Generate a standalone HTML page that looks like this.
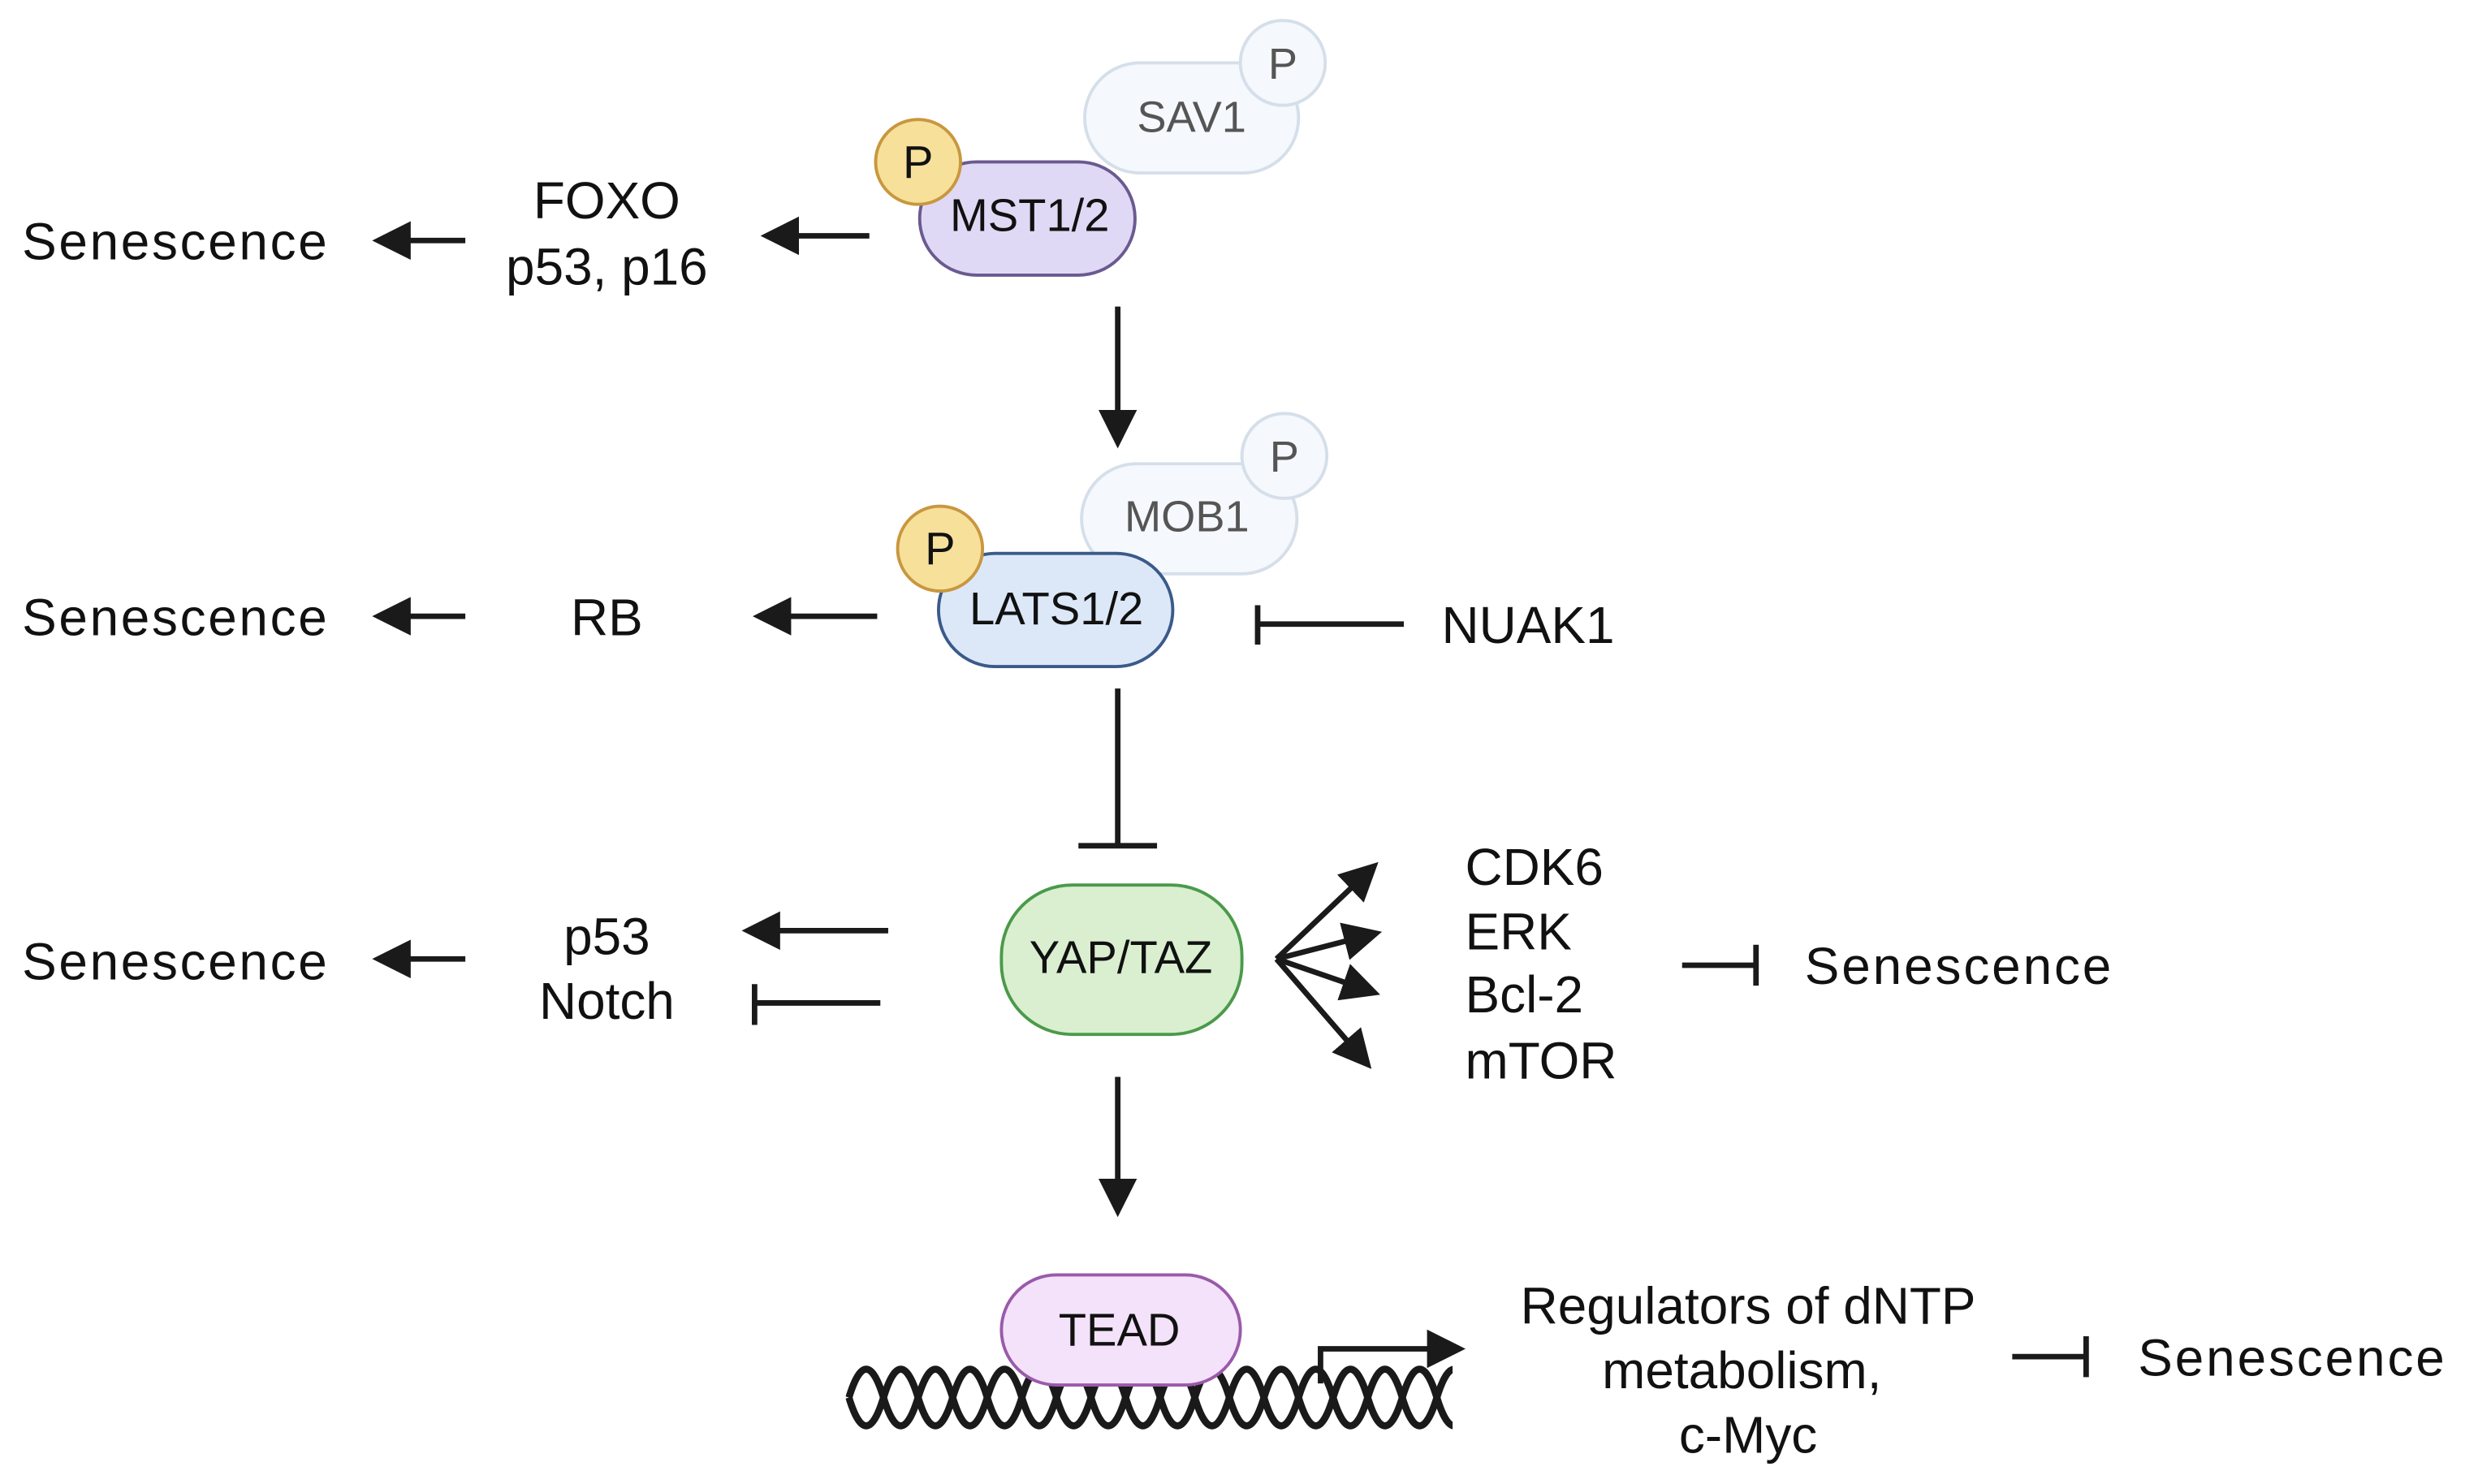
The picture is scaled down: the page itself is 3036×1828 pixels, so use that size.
<!DOCTYPE html>
<html><head><meta charset="utf-8"><style>
html,body{margin:0;padding:0;background:#fff;}
svg{display:block;}
text{font-family:"Liberation Sans",sans-serif;fill:#111;}
</style></head><body>
<svg width="3036" height="1828" viewBox="0 0 1568 944" preserveAspectRatio="none" xmlns="http://www.w3.org/2000/svg">
<defs>
<marker id="ah" markerWidth="7" markerHeight="7" refX="5.5" refY="3.5" orient="auto" markerUnits="strokeWidth">
<path d="M0,0 L7,3.5 L0,7 Z" fill="#1a1a1a"/></marker>
<clipPath id="dc"><rect x="538" y="860" width="386" height="60"/></clipPath>
</defs>
<!-- DNA -->
<g stroke="#1a1a1a" stroke-width="4.5" fill="none" clip-path="url(#dc)">
<path d="M540,889 q11,-36 22,0 t22,0 t22,0 t22,0 t22,0 t22,0 t22,0 t22,0 t22,0 t22,0 t22,0 t22,0 t22,0 t22,0 t22,0 t22,0 t22,0 t22,0"/>
<path d="M540,889 q11,36 22,0 t22,0 t22,0 t22,0 t22,0 t22,0 t22,0 t22,0 t22,0 t22,0 t22,0 t22,0 t22,0 t22,0 t22,0 t22,0 t22,0 t22,0"/>
</g>
<g stroke="#1a1a1a" stroke-width="3.5" fill="none">
<line x1="296" y1="153" x2="242" y2="153" marker-end="url(#ah)"/>
<line x1="553" y1="150" x2="489" y2="150" marker-end="url(#ah)"/>
<line x1="711" y1="195" x2="711" y2="280" marker-end="url(#ah)"/>
<line x1="296" y1="392" x2="242" y2="392" marker-end="url(#ah)"/>
<line x1="558" y1="392" x2="484" y2="392" marker-end="url(#ah)"/>
<line x1="893" y1="397" x2="800" y2="397"/>
<line x1="800" y1="385" x2="800" y2="410"/>
<line x1="711" y1="438" x2="711" y2="538"/>
<line x1="686" y1="538" x2="736" y2="538"/>
<line x1="296" y1="610" x2="242" y2="610" marker-end="url(#ah)"/>
<line x1="565" y1="592" x2="477" y2="592" marker-end="url(#ah)"/>
<line x1="560" y1="638" x2="480" y2="638"/>
<line x1="480" y1="626" x2="480" y2="652"/>
<line x1="812" y1="610" x2="873" y2="552" marker-end="url(#ah)"/>
<line x1="812" y1="610" x2="874" y2="594" marker-end="url(#ah)"/>
<line x1="812" y1="610" x2="873" y2="631" marker-end="url(#ah)"/>
<line x1="812" y1="610" x2="869" y2="676" marker-end="url(#ah)"/>
<line x1="1070" y1="614" x2="1117" y2="614"/>
<line x1="1117" y1="601" x2="1117" y2="627"/>
<line x1="711" y1="685" x2="711" y2="769" marker-end="url(#ah)"/>
<line x1="1280" y1="863" x2="1327" y2="863"/>
<line x1="1327" y1="850" x2="1327" y2="876"/>
<polyline points="840,880 840,858 927,858" marker-end="url(#ah)"/>
</g>
<rect x="690" y="40" width="136" height="70" rx="35" fill="#f5f8fc" stroke="#d5dfea" stroke-width="2"/>
<circle cx="816" cy="40" r="27" fill="#f5f8fc" stroke="#d5dfea" stroke-width="2"/>
<text x="758" y="84" font-size="28" text-anchor="middle" style="fill:#555">SAV1</text>
<text x="816" y="50" font-size="28" text-anchor="middle" style="fill:#555">P</text>
<rect x="585" y="103" width="137" height="72" rx="36" fill="#e0d9f5" stroke="#6a5a90" stroke-width="2"/>
<circle cx="584" cy="103" r="27" fill="#f7e09a" stroke="#c8973f" stroke-width="2"/>
<text x="584" y="113" font-size="29" text-anchor="middle">P</text>
<text x="655" y="147" font-size="29" text-anchor="middle">MST1/2</text>

<rect x="688" y="295" width="137" height="70" rx="35" fill="#f5f8fc" stroke="#d5dfea" stroke-width="2"/>
<circle cx="817" cy="290" r="27" fill="#f5f8fc" stroke="#d5dfea" stroke-width="2"/>
<text x="755" y="338" font-size="28" text-anchor="middle" style="fill:#555">MOB1</text>
<text x="817" y="300" font-size="28" text-anchor="middle" style="fill:#555">P</text>
<rect x="597" y="352" width="149" height="72" rx="36" fill="#dce8f7" stroke="#3a5a8a" stroke-width="2"/>
<circle cx="598" cy="349" r="27" fill="#f7e09a" stroke="#c8973f" stroke-width="2"/>
<text x="598" y="359" font-size="29" text-anchor="middle">P</text>
<text x="672" y="397" font-size="29" text-anchor="middle">LATS1/2</text>

<rect x="637" y="563" width="153" height="95" rx="45" fill="#d9efd0" stroke="#4a9a4a" stroke-width="2"/>
<text x="713" y="619" font-size="29" text-anchor="middle">YAP/TAZ</text>
<rect x="637" y="811" width="152" height="70" rx="35" fill="#f3e2f9" stroke="#9a5aaa" stroke-width="2"/>
<text x="712" y="856" font-size="29" text-anchor="middle">TEAD</text>

<g font-size="33">
<text x="14" y="165" textLength="194">Senescence</text>
<text x="14" y="404" textLength="194">Senescence</text>
<text x="14" y="623" textLength="194">Senescence</text>
<text x="1148" y="626" textLength="195">Senescence</text>
<text x="1360" y="875" textLength="195">Senescence</text>
<text x="386" y="139" text-anchor="middle">FOXO</text>
<text x="386" y="181" text-anchor="middle">p53, p16</text>
<text x="386" y="404" text-anchor="middle">RB</text>
<text x="386" y="607" text-anchor="middle">p53</text>
<text x="386" y="648" text-anchor="middle">Notch</text>
<text x="917" y="409">NUAK1</text>
<text x="932" y="563">CDK6</text>
<text x="932" y="604">ERK</text>
<text x="932" y="644">Bcl-2</text>
<text x="932" y="686">mTOR</text>
<text x="1112" y="842" text-anchor="middle">Regulators of dNTP</text>
<text x="1108" y="883" text-anchor="middle">metabolism,</text>
<text x="1112" y="924" text-anchor="middle">c-Myc</text>
</g>
</svg>
</body></html>
